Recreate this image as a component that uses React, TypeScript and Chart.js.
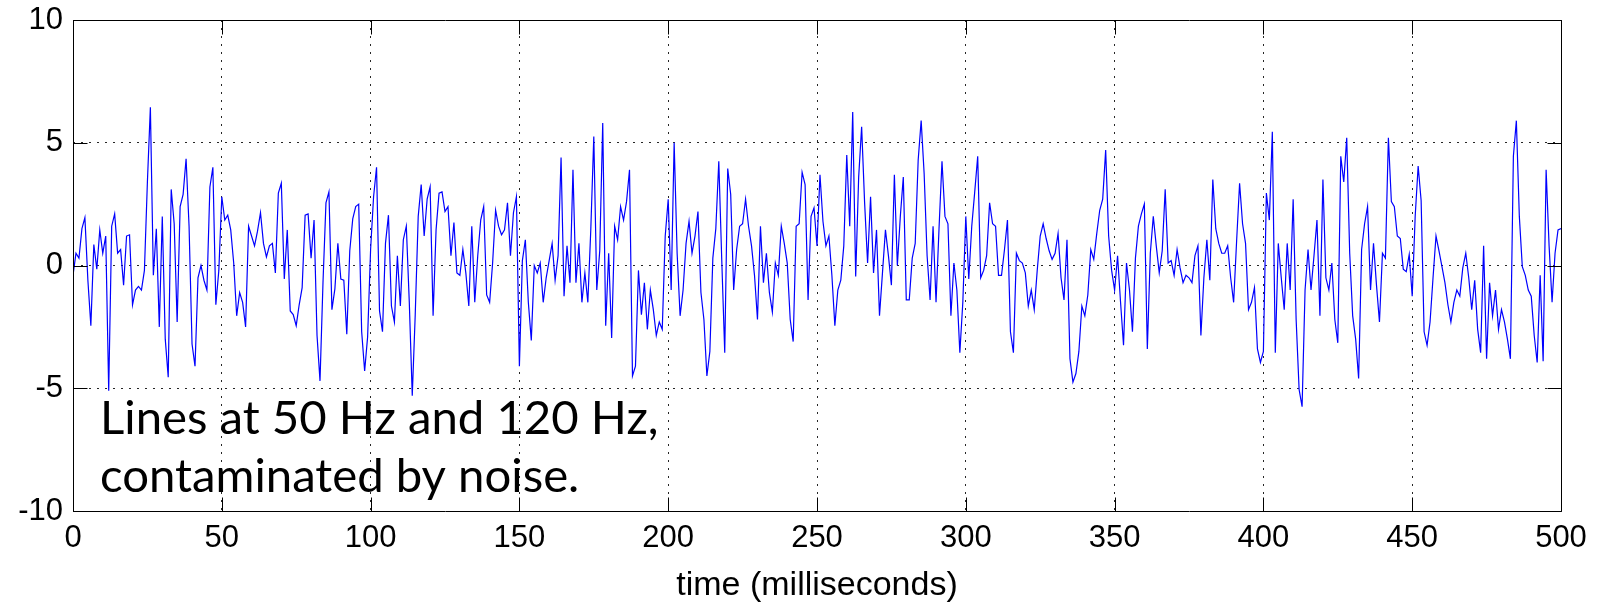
import React, { useEffect, useRef } from "react";
import { Chart, registerables } from "chart.js";

Chart.register(...registerables);

// Tick values (ms and signal amplitude)
const xTickValues = [0, 50, 100, 150, 200, 250, 300, 350, 400, 450, 500];
const yTickValues = [-10, -5, 0, 5, 10];

const xAxisLabel = "time (milliseconds)";
const noteLines = ["Lines at 50 Hz and 120 Hz,", "contaminated by noise."];

// Signal samples, one per millisecond
const s000 = [-0.4, 0.5, 0.3, 1.5, 1.95, -0.6, -2.45, 0.85, -0.15, 1.45,
  0.5, 1.2, -5.1, 1.6, 2.1, 0.5, 0.65, -0.8, 1.2, 1.25,
  -1.6, -1.0, -0.85, -1.0, -0.2, 3.4, 6.45, -0.4, 1.5, -2.5,
  2.0, -3.0, -4.55, 3.1, 1.7, -2.3, 2.4, 2.9, 4.35, 1.6,
  -3.2, -4.1, -0.5, 0.0, -0.6, -1.0, 3.2, 4.0, -1.6, -0.2];
const s050 = [2.8, 1.85, 2.05, 1.45, 0.1, -2.05, -1.1, -1.5, -2.5, 1.6,
  1.2, 0.8, 1.4, 2.15, 0.9, 0.35, 0.8, 0.9, -0.3, 2.95,
  3.35, -0.55, 1.45, -1.85, -2.0, -2.45, -1.6, -0.9, 2.05, 2.1,
  0.3, 1.85, -2.85, -4.7, -0.7, 2.55, 3.0, -1.8, -0.95, 0.9,
  -0.55, -0.6, -2.8, 0.6, 1.9, 2.4, 2.5, -2.7, -4.3, -2.9];
const s100 = [0.65, 2.8, 4.0, -1.85, -2.7, 0.9, 2.05, -1.65, -2.3, 0.4,
  -1.65, 1.05, 1.6, -1.5, -5.3, -2.0, 2.0, 3.3, 1.2, 2.7,
  3.2, -2.05, 1.45, 2.95, 3.0, 2.2, 2.4, 0.4, 1.75, -0.3,
  -0.4, 0.65, -0.3, -1.65, 1.6, -1.5, 0.4, 1.85, 2.4, -1.2,
  -1.5, 0.1, 2.25, 1.6, 1.25, 1.45, 2.55, 0.4, 2.15, 2.8];
const s150 = [-4.1, 0.2, 1.05, -1.5, -3.05, 0.0, -0.3, 0.1, -1.5, -0.5,
  0.2, 0.9, -0.6, 0.4, 4.4, -1.25, 0.8, -0.7, 3.9, -0.7,
  0.9, -1.5, -0.3, -1.5, 1.5, 5.25, -1.0, 0.6, 5.8, -2.45,
  0.5, -2.95, 1.6, 1.05, 2.4, 1.85, 2.6, 3.9, -4.5, -4.1,
  -0.2, -2.0, -0.7, -2.6, -1.0, -1.8, -2.85, -2.3, -2.6, 1.2];
const s200 = [2.7, -1.0, 5.0, 0.5, -2.05, -1.0, 0.9, 1.8, 0.5, 1.2,
  2.2, -1.1, -2.2, -4.5, -3.5, 0.3, 1.5, 4.25, 0.2, -3.55,
  3.95, 2.9, -1.0, 0.65, 1.6, 1.7, 2.7, 1.6, 0.8, -0.4,
  -2.2, 1.6, -0.7, 0.5, -1.1, -1.9, 0.1, -0.4, 1.6, 0.9,
  0.1, -2.2, -3.1, 1.6, 1.7, 3.8, 3.3, -1.4, 2.0, 2.35];
const s250 = [0.8, 3.7, 1.8, 0.8, 1.2, -0.4, -2.45, -1.0, -0.6, 0.8,
  4.5, 1.6, 6.25, -0.45, 3.6, 5.65, 2.55, 0.1, 2.8, -0.3,
  1.45, -2.05, -0.3, 1.45, 0.4, -0.8, 3.7, 0.0, 2.0, 3.6,
  -1.4, -1.4, 0.3, 0.9, 4.3, 5.9, 3.75, 0.4, -1.4, 1.6,
  -1.5, 1.5, 4.25, 2.0, 1.7, -2.05, 0.1, -1.0, -3.55, -1.5];
const s300 = [2.0, -0.55, 1.6, 3.0, 4.45, -0.5, -0.2, 0.4, 2.55, 1.7,
  1.6, -0.4, -0.4, 0.65, 1.85, -2.7, -3.55, 0.5, 0.2, 0.1,
  -0.3, -1.65, -1.0, -1.8, -0.2, 1.2, 1.7, 1.1, 0.6, 0.25,
  0.5, 1.3, -0.5, -1.4, 1.05, -3.8, -4.75, -4.4, -3.5, -1.65,
  -2.05, -1.2, 0.65, 0.25, 1.3, 2.25, 2.7, 4.7, 1.2, -0.2];
const s350 = [-1.0, 0.4, -1.5, -3.25, 0.1, -1.0, -2.7, 0.3, 1.6, 2.1,
  2.5, -3.4, 0.5, 2.0, 0.8, -0.3, 0.6, 3.1, 0.1, 0.2,
  -0.4, 0.65, -0.1, -0.7, -0.4, -0.5, -0.7, 0.4, 0.8, -2.85,
  -0.5, 1.05, -0.6, 3.5, 1.5, 0.9, 0.5, 0.5, 0.8, -0.5,
  -1.5, 1.0, 3.35, 1.7, 0.9, -1.8, -1.5, -0.9, -3.4, -3.95];
const s400 = [-3.5, 2.95, 1.85, 5.45, -3.55, 0.9, -0.5, -1.8, 0.9, -1.0,
  2.7, -2.2, -5.05, -5.75, -1.0, 0.65, -1.0, 0.4, 1.85, -2.05,
  3.5, -0.5, -1.0, 0.1, -2.2, -3.15, 4.45, 3.4, 5.2, 0.5,
  -2.05, -3.0, -4.6, 0.65, 1.7, 2.4, -1.0, 0.9, -0.8, -2.3,
  0.5, 0.3, 5.2, 2.6, 2.4, 1.2, 1.1, -0.15, -0.25, 0.45];
const s450 = [-1.25, 2.0, 4.05, 2.65, -2.7, -3.25, -2.3, -0.5, 1.2, 0.6,
  -0.05, -0.7, -1.6, -2.3, -1.5, -1.0, -1.25, -0.1, 0.5, -0.5,
  -1.8, -0.6, -2.6, -3.55, 0.8, -3.8, -0.7, -2.05, -1.0, -2.6,
  -1.8, -2.3, -3.0, -3.8, 4.45, 5.9, 2.0, -0.05, -0.4, -1.0,
  -1.25, -2.85, -3.95, -0.4, -3.9, 3.9, 0.8, -1.5, 0.5, 1.45, 1.5];

const signal = [...s000, ...s050, ...s100, ...s150, ...s200, ...s250, ...s300, ...s350, ...s400, ...s450];

const TICK_FONT = "'Liberation Sans', Arial, sans-serif";
const NOTE_FONT = "Lato, 'Noto Sans', sans-serif";

const framePlugin = {
  id: "matlabFrame",
  afterDatasetsDraw(chart: any) {
    const { ctx, chartArea: a, scales } = chart;
    const xs = scales.x;
    const ys = scales.y;
    ctx.save();
    ctx.strokeStyle = "#000";
    ctx.lineWidth = 1;
    const L = Math.round(a.left) + 0.5;
    const R = Math.round(a.right) + 0.5;
    const T = Math.round(a.top) + 0.5;
    const B = Math.round(a.bottom) + 0.5;
    ctx.beginPath();
    ctx.rect(L, T, R - L, B - T);
    const tl = 14;
    xTickValues.forEach((v) => {
      const p = Math.round(xs.getPixelForValue(v)) + 0.5;
      ctx.moveTo(p, B); ctx.lineTo(p, B - tl);
      ctx.moveTo(p, T); ctx.lineTo(p, T + tl);
    });
    yTickValues.forEach((v) => {
      const p = Math.round(ys.getPixelForValue(v)) + 0.5;
      ctx.moveTo(L, p); ctx.lineTo(L + tl, p);
      ctx.moveTo(R, p); ctx.lineTo(R - tl, p);
    });
    ctx.stroke();

    // overlay note
    ctx.font = `100px ${NOTE_FONT}`;
    const w = ctx.measureText(noteLines[0]).width;
    const size = (100 * 558) / w;
    ctx.font = `${size.toFixed(1)}px ${NOTE_FONT}`;
    ctx.fillStyle = "#000";
    ctx.textBaseline = "alphabetic";
    ctx.textAlign = "left";
    ctx.fillText(noteLines[0], a.left + 27, a.bottom - 77);
    ctx.fillText(noteLines[1], a.left + 27, a.bottom - 19);
    ctx.restore();
  },
};

export default function App() {
  const canvasRef = useRef<HTMLCanvasElement | null>(null);

  useEffect(() => {
    document.body.style.margin = "0";
    const canvas = canvasRef.current;
    if (!canvas) return;
    const chart = new Chart(canvas, {
      type: "line",
      data: {
        datasets: [
          {
            data: signal.map((v, i) => ({ x: i, y: v })),
            borderColor: "#0000ff",
            borderWidth: 1.2,
            pointRadius: 0,
            tension: 0,
            fill: false,
          },
        ],
      },
      options: {
        animation: false,
        responsive: true,
        maintainAspectRatio: false,
        devicePixelRatio: 1,
        layout: { padding: { top: 20, right: 41, left: 0, bottom: 0 } },
        plugins: {
          legend: { display: false },
          tooltip: { enabled: false },
          title: { display: false },
        },
        scales: {
          x: {
            type: "linear",
            min: 0,
            max: 500,
            afterBuildTicks: (scale: any) => {
              scale.ticks = xTickValues.map((v) => ({ value: v }));
            },
            afterFit: (scale: any) => {
              scale.height = 92;
              scale.paddingLeft = 0;
              scale.paddingRight = 0;
            },
            ticks: {
              autoSkip: false,
              maxRotation: 0,
              color: "#000",
              padding: 9,
              font: { family: TICK_FONT, size: 31 },
            },
            grid: {
              color: "rgba(0,0,0,0.85)",
              lineWidth: 1,
              drawTicks: false,
            },
            border: { display: false, dash: [2, 6] },
            title: {
              display: true,
              text: xAxisLabel,
              color: "#000",
              font: { family: TICK_FONT, size: 34, lineHeight: 1 },
              padding: { top: 0, bottom: 0 },
            },
          },
          y: {
            min: -10,
            max: 10,
            afterBuildTicks: (scale: any) => {
              scale.ticks = yTickValues.map((v) => ({ value: v }));
            },
            afterFit: (scale: any) => {
              scale.width = 73;
              scale.paddingTop = 0;
              scale.paddingBottom = 0;
            },
            ticks: {
              color: "#000",
              padding: 10,
              font: { family: TICK_FONT, size: 31 },
            },
            grid: {
              color: "rgba(0,0,0,0.85)",
              lineWidth: 1,
              drawTicks: false,
            },
            border: { display: false, dash: [2, 6] },
          },
        },
      },
      plugins: [framePlugin],
    } as any);
    return () => chart.destroy();
  }, []);

  return (
    <div
      style={{
        position: "fixed",
        left: 0,
        top: 0,
        width: 1602,
        height: 603,
        background: "#fff",
      }}
    >
      <canvas ref={canvasRef} />
    </div>
  );
}
